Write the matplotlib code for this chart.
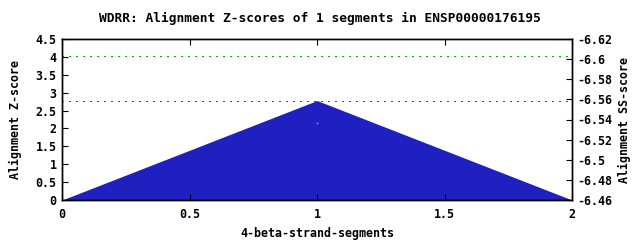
import matplotlib
matplotlib.use("Agg")
import matplotlib.pyplot as plt

# data
segments = [0, 1, 2]
z_scores = [0, 2.78, 0]
ss_x = [1]
ss_scores = [-6.537]
red_level = 2.78
green_level = 4.03

title = "WDRR: Alignment Z-scores of 1 segments in ENSP00000176195"

plt.rcParams['font.family'] = ['DejaVu Sans Mono']
plt.rcParams['font.weight'] = 'bold'
plt.rcParams['axes.labelweight'] = 'bold'
plt.rcParams['font.size'] = 8.4

fig = plt.figure(figsize=(6.4, 2.4), dpi=100)
ax = fig.add_axes([62 / 640, 40 / 240, 510 / 640, 161 / 240])

ax.fill_between(segments, z_scores, 0, color='#2020c0', linewidth=0)
ax.axhline(green_level, color='#00c000', linestyle=(0, (1, 4)), linewidth=1.0, antialiased=False)
ax.axhline(red_level, color='#ff0000', linestyle=(0, (1, 4)), linewidth=1.0, antialiased=False)

ax.set_xlim(0, 2)
ax.set_ylim(0, 4.5)
ax.set_xticks([0, 0.5, 1, 1.5, 2])
ax.set_xticklabels(['0', '0.5', '1', '1.5', '2'], fontweight='bold')
ax.set_yticks([0, 0.5, 1, 1.5, 2, 2.5, 3, 3.5, 4, 4.5])
ax.set_yticklabels(['0', '0.5', '1', '1.5', '2', '2.5', '3', '3.5', '4', '4.5'], fontweight='bold')
ax.tick_params(axis='x', direction='in', top=True, length=4, pad=6)
ax.tick_params(axis='y', direction='in', length=4, pad=4)
ax.set_xlabel('4-beta-strand-segments', labelpad=4, fontweight='bold')
ax.set_ylabel('Alignment Z-score', labelpad=10, fontweight='bold')

ax2 = ax.twinx()
ax2.set_ylim(-6.46, -6.62)
ax2.set_yticks([-6.46, -6.48, -6.5, -6.52, -6.54, -6.56, -6.58, -6.6, -6.62])
ax2.set_yticklabels(['-6.46', '-6.48', '-6.5', '-6.52', '-6.54', '-6.56', '-6.58', '-6.6', '-6.62'],
                    fontweight='bold')
ax2.tick_params(axis='y', direction='in', length=4, pad=4)
ax2.plot(ss_x, ss_scores, 's', color='#00c0ff', markersize=1.2, markeredgewidth=0)
ax2.set_ylabel('Alignment SS-score', rotation=90, labelpad=4, fontweight='bold')

for a in (ax, ax2):
    for s in a.spines.values():
        s.set_linewidth(1)

fig.text(0.5, 1 - 18 / 240, title, ha='center', va='center', fontsize=9.3, fontweight='bold')

fig.savefig('out.png', dpi=100)
